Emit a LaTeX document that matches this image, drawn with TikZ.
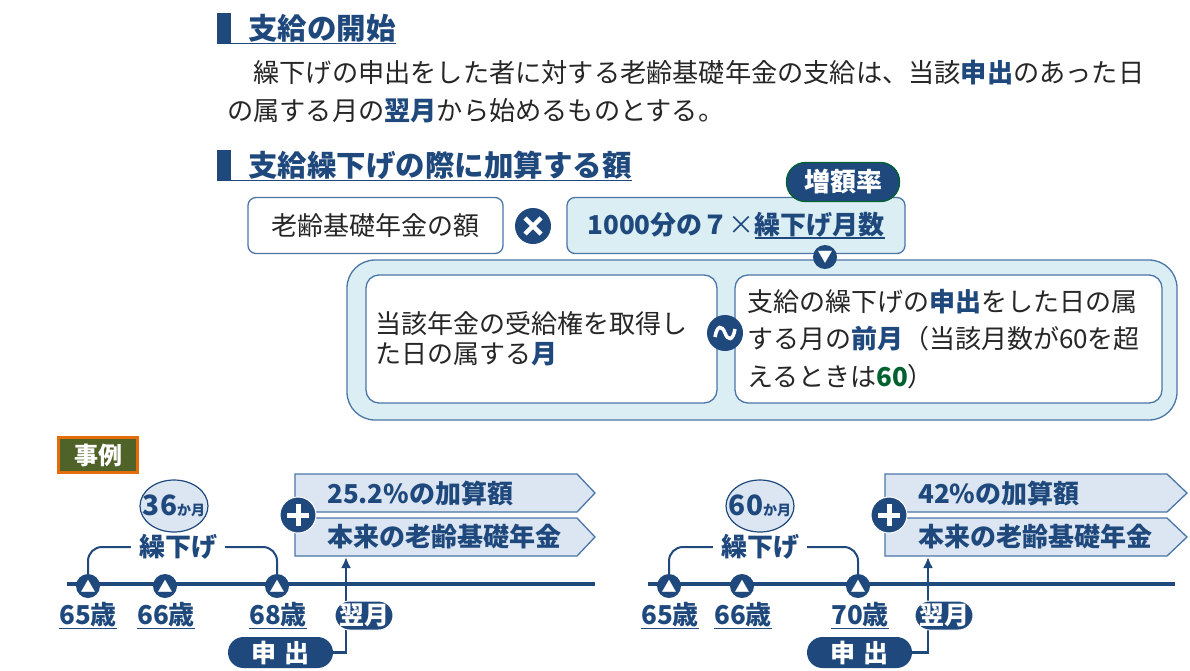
\documentclass[tikz,border=0pt]{standalone}
\usepackage{fontspec}
\setmainfont{Noto Sans CJK JP}
\usetikzlibrary{arrows.meta}
\usetikzlibrary{shapes}
\usetikzlibrary{positioning}

\definecolor{navy}{HTML}{1F497D}
\definecolor{frame}{HTML}{4A76A8}
\definecolor{aqua}{HTML}{DAEEF3}
\definecolor{pale}{HTML}{DCE6F2}
\definecolor{olive}{HTML}{4F6228}
\definecolor{rust}{HTML}{E46C0A}
\definecolor{leaf}{HTML}{00612E}
\definecolor{ink}{HTML}{262626}

\newcommand{\px}[1]{\fontsize{#1}{#1}\selectfont}
\newcommand{\ulbar}[1]{\setbox0=\hbox{#1}\rlap{\color{navy}\rule[-4pt]{\wd0}{1.3pt}}\box0}

\begin{document}
\begin{tikzpicture}[x=1pt, y=-1pt, inner sep=0pt,
    bar/.style={fill=navy, minimum width=14pt, minimum height=30pt},
    head/.style={text=navy, font=\px{29.5}\bfseries},
    plain/.style={text=ink, font=\px{26}},
    card/.style={draw=frame, line width=1.3pt, rounded corners=8pt},
    dot/.style={circle, fill=navy, minimum size=24pt},
    pill/.style={fill=navy, text=white, font=\px{25}\bfseries},
    gain/.style={fill=pale, draw=frame, line width=1.3pt},
    gaintext/.style={text=navy, font=\px{26}\bfseries, anchor=west},
    age/.style={text=navy, font=\px{26}\bfseries, inner ysep=1pt,
        append after command={(\tikzlastnode.south west) edge[navy, line width=1.3pt] (\tikzlastnode.south east)}},
    months/.style={ellipse, fill=pale, draw=navy, line width=1.2pt, inner xsep=-8pt, minimum width=68pt, minimum height=52pt, text=navy},
    brace/.style={navy, line width=2pt, rounded corners=14pt},
    feed/.style={navy, line width=2.5pt, -{Latex[length=11pt,width=10pt]}}]
    \useasboundingbox (0,0) rectangle (1190,670);

    % headings and rule text
    \node [bar] (bar1) at (224,28) {};
    \node [head, right=17pt of bar1] (head1) {支給の開始};
    \draw [navy, line width=1.2pt] (bar1.south west) -- (head1.east |- bar1.south);
    \node [plain, anchor=west, font=\px{26.2}] (intro1) at (227,73) {　繰下げの申出をした者に対する老齢基礎年金の支給は、当該{\bfseries\color{navy}申出}のあった日};
    \node [plain, anchor=west, font=\px{26.2}] (intro2) at (227,111) {の属する月の{\bfseries\color{navy}翌月}から始めるものとする。};
    \node [bar] (bar2) at (224,165) {};
    \node [head, right=17pt of bar2] (head2) {支給繰下げの際に加算する額};
    \draw [navy, line width=1.2pt] (bar2.south west) -- (head2.east |- bar2.south);

    % formula
    \node [card, fill=white, plain, minimum width=255pt, minimum height=56pt] (base) at (375.5,225.5) {老齢基礎年金の額};
    \node [dot, minimum size=36pt] (times) at (533,226) {};
    \draw [white, line width=4.5pt] (525,218) -- (541,234) (525,234) -- (541,218);
    \node [card, fill=aqua, minimum width=338pt, minimum height=56pt, text=navy, font=\px{26}] (rate) at (736,225.5) {{\bfseries 1000分の７}×{\bfseries\ulbar{繰下げ月数}}};
    \node [pill, draw=leaf, line width=1.3pt, minimum width=113pt, minimum height=39pt, rounded corners=19pt, font=\px{26}\bfseries] (tag) at (843,182) {増額率};

    \node [card, fill=aqua, rounded corners=28pt, minimum width=830pt, minimum height=160pt] (range) at (762,340) {};
    \node [dot, text=white, font=\px{15}] (down) at (825,257) {▼};
    \node [card, fill=white, rounded corners=13pt, text=ink, text width=333pt, inner xsep=9pt, minimum height=128pt, align=left, font=\fontsize{26}{30}\selectfont] (from) at (541.5,339) {当該年金の受給権を取得し\\た日の属する{\bfseries\color{navy}月}};
    \node [card, fill=white, rounded corners=13pt, text=ink, text width=403pt, inner xsep=12pt, minimum height=128pt, align=left, font=\fontsize{26}{37.5}\selectfont] (to) at (948.5,339) {支給の繰下げの{\bfseries\color{navy}申出}をした日の属\\する月の{\bfseries\color{navy}前月}（当該月数が60を超\\えるときは{\bfseries\color{leaf}60}）};
    \node [dot, minimum size=36pt] (tilde) at (725,333) {};
    \draw [white, line width=3.5pt] (715,337) .. controls (717,325) and (722,325) .. (725,333) .. controls (728,341) and (733,341) .. (735,329);

    % example
    \node [fill=olive, draw=rust, line width=2.5pt, minimum width=79pt, minimum height=35pt, text=white, font=\px{24}\bfseries] (case) at (98,455) {事例};

    % example 1
    \coordinate (axis1a) at (67,584);
    \coordinate (axis1b) at (595,584);
    \draw [navy, line width=4pt] (axis1a) -- (axis1b);
    \node [dot, text=white, font=\px{15}] (a65) at (88,586) {▲};
    \node [dot, text=white, font=\px{15}] (a66) at (165,586) {▲};
    \node [dot, text=white, font=\px{15}] (a68) at (277,586) {▲};
    \node [age] (y65) at (88,615) {65歳};
    \node [age] (y66) at (166,615) {66歳};
    \node [age] (y68) at (278,615) {68歳};
    \node [months] (span1) at (174,506) {{\px{28}\bfseries 36}{\px{14}\bfseries か月}};
    \node [text=navy, font=\px{26}\bfseries, inner xsep=8pt] (defer1) at (178,547) {繰下げ};
    \draw [brace] (a65.north) |- (defer1.west);
    \draw [brace] (defer1.east) -| (a68.north);

    \draw [gain] (295,474) -- (577,474) -- (595,493) -- (577,512) -- (295,512) -- cycle;
    \node [gaintext] (extra1) at (327,493) {25.2\%の加算額};
    \draw [gain] (295,518) -- (577,518) -- (595,537) -- (577,556) -- (295,556) -- cycle;
    \node [gaintext] (own1) at (327,537) {本来の老齢基礎年金};
    \node [dot, draw=white, line width=1pt, minimum size=36pt] (add1) at (298,515) {};
    \draw [white, line width=5pt] (287,515) -- (309,515) (298,504) -- (298,526);

    \coordinate (feed1) at (346,557);
    \node [pill, minimum width=105pt, minimum height=31pt, rounded corners=15.5pt] (apply1) at (280.5,652.5) {申\hspace{8pt}出};
    \draw [feed] (apply1.east) -| (feed1);
    \node [pill, draw=white, line width=1pt, minimum width=58pt, minimum height=29pt, rounded corners=14.5pt] (next1) at (364,615.5) {翌月};

    % example 2
    \coordinate (axis2a) at (648,584);
    \coordinate (axis2b) at (1175,584);
    \draw [navy, line width=4pt] (axis2a) -- (axis2b);
    \node [dot, text=white, font=\px{15}] (b65) at (669,586) {▲};
    \node [dot, text=white, font=\px{15}] (b66) at (742,586) {▲};
    \node [dot, text=white, font=\px{15}] (b70) at (858,586) {▲};
    \node [age] (z65) at (670,615) {65歳};
    \node [age] (z66) at (743,615) {66歳};
    \node [age] (z70) at (860,615) {70歳};
    \node [months] (span2) at (760,506) {{\px{28}\bfseries 60}{\px{14}\bfseries か月}};
    \node [text=navy, font=\px{26}\bfseries, inner xsep=8pt] (defer2) at (760,547) {繰下げ};
    \draw [brace] (b65.north) |- (defer2.west);
    \draw [brace] (defer2.east) -| (b70.north);

    \draw [gain] (885,474) -- (1167,474) -- (1187,493) -- (1167,512) -- (885,512) -- cycle;
    \node [gaintext] (extra2) at (918,493) {42\%の加算額};
    \draw [gain] (885,518) -- (1167,518) -- (1187,537) -- (1167,556) -- (885,556) -- cycle;
    \node [gaintext] (own2) at (918,537) {本来の老齢基礎年金};
    \node [dot, draw=white, line width=1pt, minimum size=36pt] (add2) at (889,515) {};
    \draw [white, line width=5pt] (878,515) -- (900,515) (889,504) -- (889,526);

    \coordinate (feed2) at (928,557);
    \node [pill, minimum width=105pt, minimum height=31pt, rounded corners=15.5pt] (apply2) at (859.5,652.5) {申\hspace{8pt}出};
    \draw [feed] (apply2.east) -| (feed2);
    \node [pill, draw=white, line width=1pt, minimum width=58pt, minimum height=29pt, rounded corners=14.5pt] (next2) at (944,615.5) {翌月};
\end{tikzpicture}
\end{document}
